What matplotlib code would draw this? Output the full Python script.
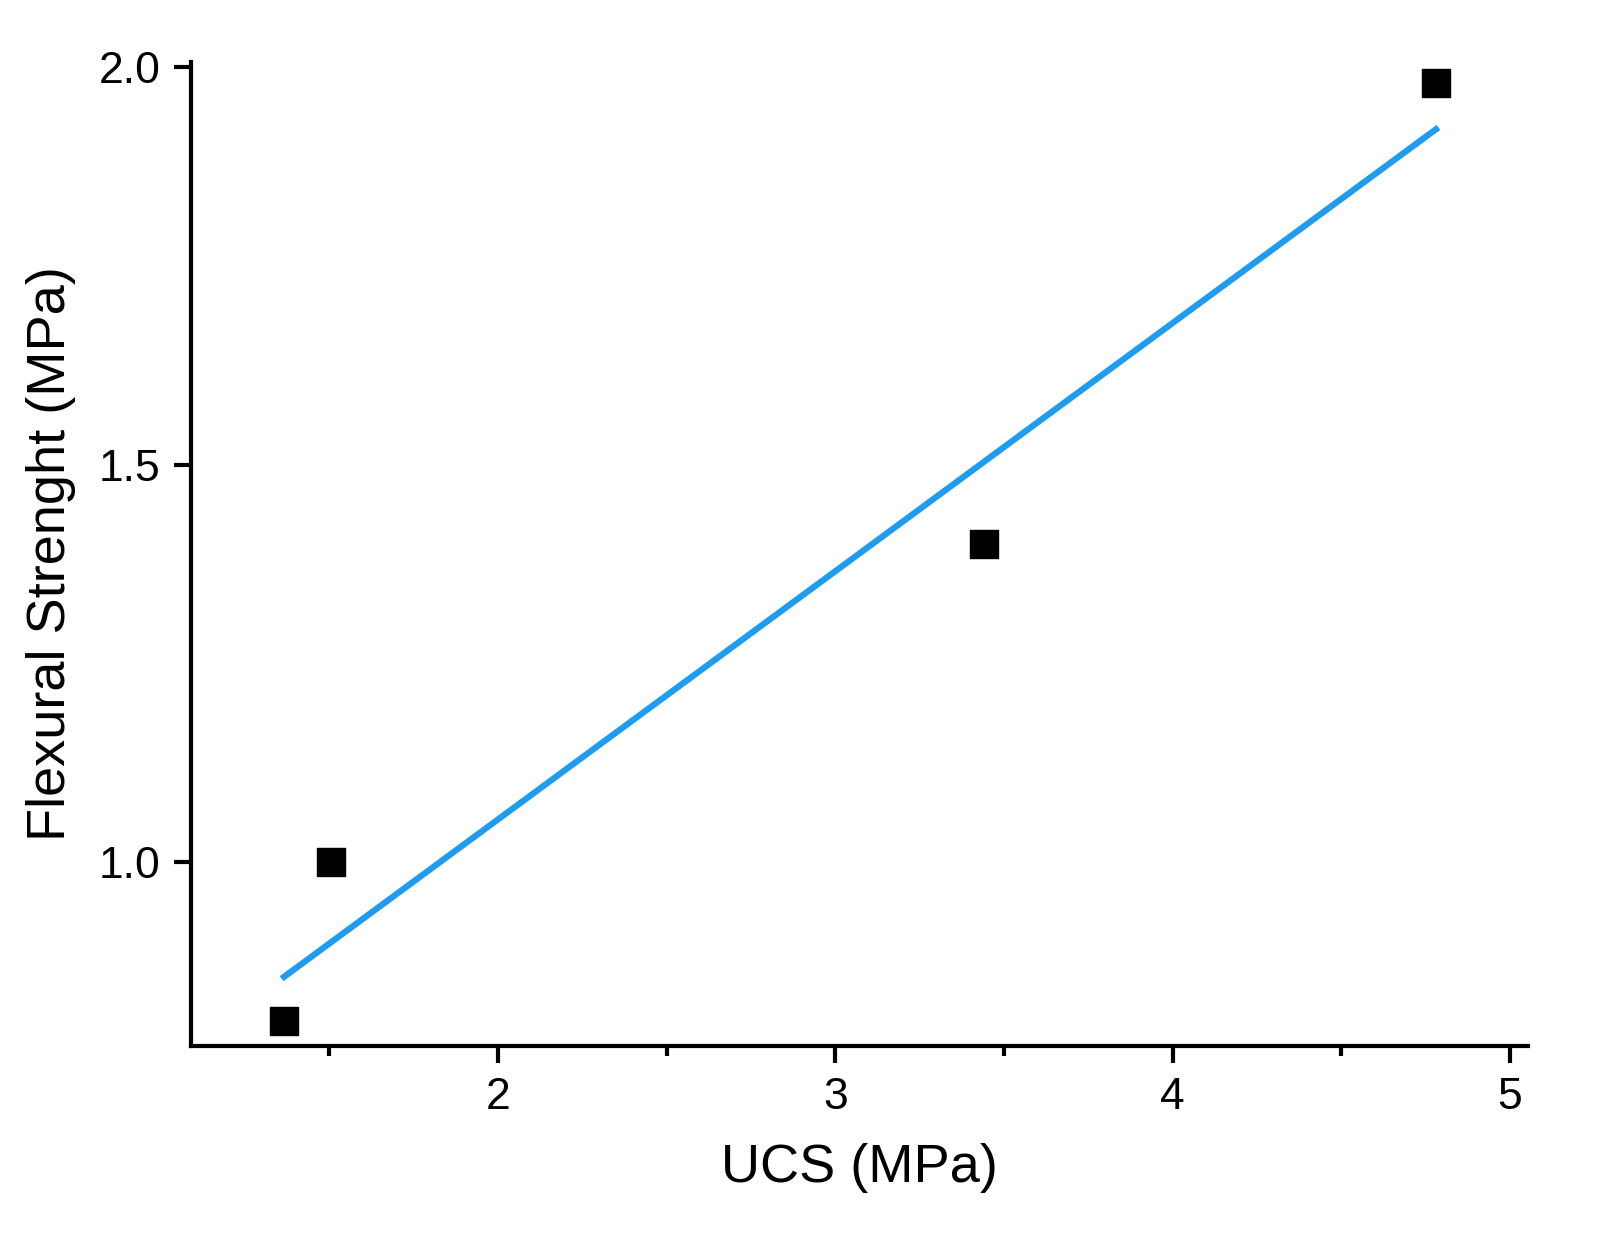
import numpy as np
import matplotlib.pyplot as plt
from matplotlib.ticker import MultipleLocator

plt.rcParams['font.family'] = ['Liberation Sans', 'DejaVu Sans']

ucs = [1.366, 1.505, 3.44, 4.78]
flex = [0.80, 1.00, 1.40, 1.98]

slope, icpt = np.polyfit(ucs, flex, 1)
xfit = np.array([min(ucs), max(ucs)])

fig = plt.figure(figsize=(15.97, 12.48), dpi=100)
ax = fig.add_axes([191/1597, 1-1046/1248, (1528-191)/1597, (1046-62)/1248])

ax.plot(xfit, slope*xfit + icpt, color='#1e9cf0', lw=4.5, zorder=2)
ax.scatter(ucs, flex, marker='s', s=380, color='black', zorder=3)

ax.set_xlim(1.09, 5.053)
ax.set_ylim(0.769, 2.006)
ax.xaxis.set_major_locator(MultipleLocator(1))
ax.xaxis.set_minor_locator(MultipleLocator(0.5))
ax.yaxis.set_major_locator(MultipleLocator(0.5))
ax.yaxis.set_major_formatter(plt.FormatStrFormatter('%.1f'))

for s in ['top', 'right']:
    ax.spines[s].set_visible(False)
for s in ['left', 'bottom']:
    ax.spines[s].set_linewidth(3)
ax.tick_params(which='major', length=12, width=3, labelsize=32, pad=10)
ax.tick_params(which='minor', length=7, width=3)

ax.set_xlabel('UCS (MPa)', fontsize=39, labelpad=18)
ax.set_ylabel('Flexural Strenght (MPa)', fontsize=39, labelpad=16)

fig.savefig('out.png', dpi=100)
